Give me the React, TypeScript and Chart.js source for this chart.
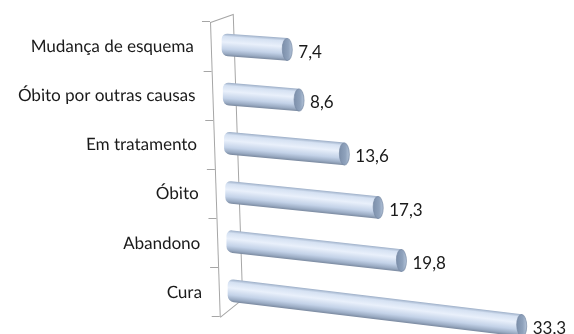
import React, { useEffect, useRef } from "react";
import { Chart, registerables } from "chart.js";

Chart.register(...registerables);

const categories = [
  "Mudança de esquema",
  "Óbito por outras causas",
  "Em tratamento",
  "Óbito",
  "Abandono",
  "Cura",
];
const values = [7.4, 8.6, 13.6, 17.3, 19.8, 33.3];
const valueLabels = ["7,4", "8,6", "13,6", "17,3", "19,8", "33,3"];

const FONT = "Lato, 'Open Sans', sans-serif";
const BAR_T = 22;
// perspective look (style only)
const AXIS_SHEAR = 0.033;
const AXIS_DROP = 2;
const SLOPE_TOP = 0.074;
const SLOPE_BOTTOM = 0.12;
const BASE_SHIFT_BOTTOM = 6;

function barTransform(chart: any, i: number, n: number) {
  const t = n > 1 ? i / (n - 1) : 0;
  const slope = SLOPE_TOP + (SLOPE_BOTTOM - SLOPE_TOP) * t;
  const dx = BASE_SHIFT_BOTTOM * t;
  const x0 = chart.scales.x.getPixelForValue(0);
  return { slope, dx, x0 };
}

const perspectivePlugin = {
  id: "perspective",
  beforeDraw(chart: any) {
    const { ctx, chartArea } = chart;
    const { left, top, bottom } = chartArea;
    ctx.save();
    ctx.transform(1, 0, AXIS_SHEAR, 1, -AXIS_SHEAR * top, AXIS_DROP);
    const dx = 23;
    const dy = 8;
    ctx.strokeStyle = "#a6a6a6";
    ctx.lineWidth = 1;
    ctx.beginPath();
    ctx.moveTo(left + 0.5, top + 0.5);
    ctx.lineTo(left + dx + 0.5, top - dy + 0.5);
    ctx.lineTo(left + dx + 0.5, bottom - 18 + 0.5);
    ctx.lineTo(left + 0.5, bottom + 0.5);
    ctx.stroke();
  },
  beforeDatasetsDraw(chart: any) {
    chart.ctx.restore();
  },
  beforeDatasetDraw(chart: any, args: any) {
    const { ctx } = chart;
    const meta = args.meta;
    const n = meta.data.length;
    meta.data.forEach((el: any, i: number) => {
      const { slope, dx, x0 } = barTransform(chart, i, n);
      ctx.save();
      ctx.transform(1, slope, 0, 1, dx, -slope * x0);
      el.draw(ctx, chart.chartArea);
      const x = el.x;
      const y = el.y;
      const h = el.height;
      const rx = 5;
      const g = ctx.createLinearGradient(x - rx, 0, x + rx, 0);
      g.addColorStop(0, "#7d90ab");
      g.addColorStop(0.6, "#8fa2bc");
      g.addColorStop(1, "#b3c3d8");
      ctx.beginPath();
      ctx.ellipse(x, y, rx, h / 2, 0, 0, Math.PI * 2);
      ctx.fillStyle = g;
      ctx.fill();
      ctx.strokeStyle = "rgba(120,138,165,0.7)";
      ctx.lineWidth = 1;
      ctx.stroke();
      ctx.restore();
    });
    return false;
  },
  afterDatasetsDraw(chart: any) {
    const { ctx } = chart;
    const meta = chart.getDatasetMeta(0);
    const n = meta.data.length;
    ctx.save();
    meta.data.forEach((el: any, i: number) => {
      const { slope, dx, x0 } = barTransform(chart, i, n);
      const x = el.x + dx;
      const y = el.y + slope * (el.x - x0);
      ctx.fillStyle = "#1a1a1a";
      ctx.font = `17px ${FONT}`;
      ctx.textAlign = "left";
      ctx.textBaseline = "middle";
      ctx.fillText(valueLabels[i], x + 11, y + 3);
    });
    ctx.restore();
  },
};

export default function App() {
  const ref = useRef<HTMLCanvasElement | null>(null);

  useEffect(() => {
    document.body.style.margin = "0";
    const canvas = ref.current!;
    const chart = new Chart(canvas, {
      type: "bar",
      data: {
        labels: categories,
        datasets: [
          {
            data: values,
            barThickness: BAR_T,
            borderSkipped: false,
            borderRadius: { topLeft: 6, bottomLeft: 6, topRight: 0, bottomRight: 0 },
            borderWidth: 0,
            backgroundColor: (c: any) => {
              const ch = c.chart;
              const ys = ch.scales && ch.scales.y;
              if (!ys || c.dataIndex === undefined) return "#c4d3e8";
              const cy = ys.getPixelForValue(c.dataIndex);
              if (!isFinite(cy)) return "#c4d3e8";
              const g = ch.ctx.createLinearGradient(0, cy - BAR_T / 2, 0, cy + BAR_T / 2);
              g.addColorStop(0, "#a3b4cc");
              g.addColorStop(0.12, "#d5e1f2");
              g.addColorStop(0.38, "#e9f0fb");
              g.addColorStop(0.7, "#c3d2e8");
              g.addColorStop(0.9, "#9aabc3");
              g.addColorStop(1, "#7e8da3");
              return g;
            },
          },
        ],
      },
      options: {
        indexAxis: "y",
        animation: false,
        responsive: false,
        maintainAspectRatio: false,
        layout: { padding: { top: 20, bottom: 15, right: 8, left: 0 } },
        plugins: {
          legend: { display: false },
          tooltip: { enabled: false },
        },
        scales: {
          x: {
            display: false,
            min: -1.36,
            max: 39,
          },
          y: {
            afterFit: (axis: any) => {
              axis.width = 210;
            },
            grid: {
              display: true,
              offset: true,
              drawOnChartArea: false,
              drawTicks: true,
              tickLength: 8,
              color: "#a6a6a6",
            },
            border: { display: true, color: "#a6a6a6" },
            ticks: {
              padding: 9,
              color: "#1a1a1a",
              font: { family: FONT, size: 17 },
            },
          },
        },
      },
      plugins: [perspectivePlugin],
    });
    return () => chart.destroy();
  }, []);

  return (
    <div style={{ position: "fixed", left: 0, top: 0, width: 574, height: 334, background: "#fff" }}>
      <canvas ref={ref} width={574} height={334} style={{ width: 574, height: 334 }} />
    </div>
  );
}
